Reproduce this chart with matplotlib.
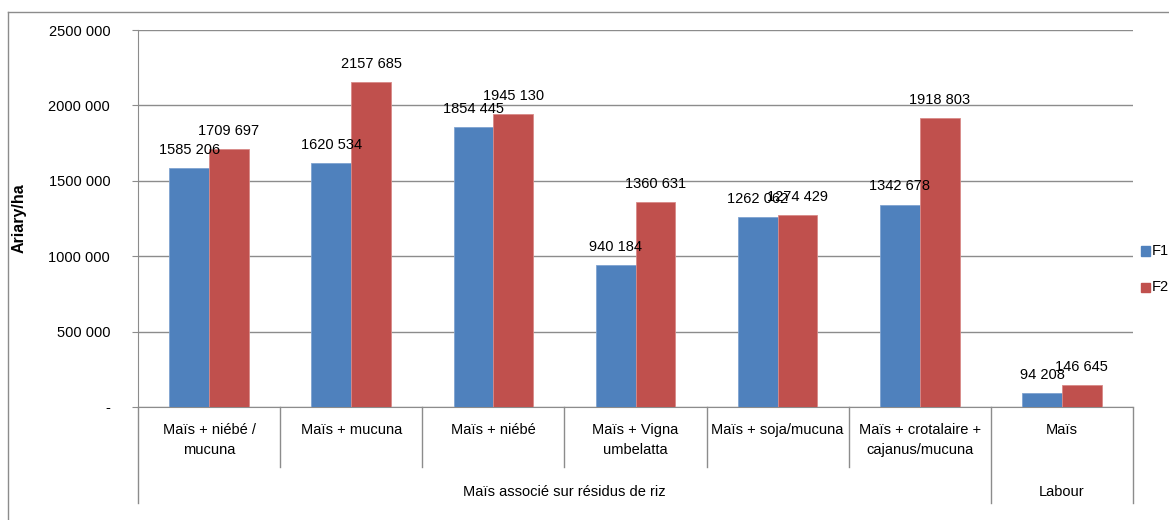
import numpy as np
import matplotlib
matplotlib.use("Agg")
import matplotlib.pyplot as plt
import matplotlib.transforms as mtransforms

# données
categories = ["Maïs + niébé /\nmucuna", "Maïs + mucuna", "Maïs + niébé",
              "Maïs + Vigna\numbelatta", "Maïs + soja/mucuna",
              "Maïs + crotalaire +\ncajanus/mucuna", "Maïs"]
groupes = ["Maïs associé sur résidus de riz", "Labour"]
taille_groupes = [6, 1]
F1 = [1585206, 1620534, 1854445, 940184, 1262062, 1342678, 94208]
F2 = [1709697, 2157685, 1945130, 1360631, 1274429, 1918803, 146645]
yticks = [0, 500000, 1000000, 1500000, 2000000, 2500000]

bleu = "#4F81BD"
rouge = "#C0504D"
gris = "#8C8C8C"

plt.rcParams['font.family'] = ['Liberation Sans', 'DejaVu Sans']

def fmt(v):
    # format "# ##0" : un seul séparateur pour les milliers, "-" pour zéro
    if v == 0:
        return "-"
    if v < 1000:
        return str(v)
    return f"{v // 1000} {v % 1000:03d}"

fig = plt.figure(figsize=(11.69, 5.2), dpi=100)
ax = fig.add_axes([138/1169, 1-407/520, (1133-138)/1169, (407-30)/520])

x = np.arange(len(categories))
w = 0.28
ax.bar(x - w/2, F1, w, color=bleu, edgecolor="#7FA3D0", linewidth=0.6, zorder=3)
ax.bar(x + w/2, F2, w, color=rouge, edgecolor="#D88A88", linewidth=0.6, zorder=3)

for i in range(len(x)):
    ax.annotate(fmt(F1[i]), (x[i] - w/2, F1[i]), xytext=(0, 8), textcoords="offset points",
                ha="center", va="bottom", fontsize=10.5, zorder=4)
    ax.annotate(fmt(F2[i]), (x[i] + w/2, F2[i]), xytext=(0, 8), textcoords="offset points",
                ha="center", va="bottom", fontsize=10.5, zorder=4)

ax.set_xlim(-0.5, len(categories) - 0.5)
ax.set_ylim(0, 2500000)
ax.set_yticks(yticks)
ax.set_yticklabels([fmt(v) for v in yticks], fontsize=10.5)
ax.yaxis.grid(True, color=gris, linewidth=1, zorder=0)
ax.tick_params(axis="y", length=4, color=gris, pad=16)
ax.set_xticks([])
for s in ["top", "right"]:
    ax.spines[s].set_visible(False)
ax.spines["left"].set_color(gris)
ax.spines["bottom"].set_color(gris)
ax.set_ylabel("Ariary/ha", fontsize=11.5, fontweight="bold")
ax.yaxis.set_label_coords((27 - 138) / (1133 - 138), 0.5)

# axe des x à deux niveaux
trans = mtransforms.blended_transform_factory(ax.transData, ax.transAxes)
h = ax.get_position().height * 520
def dy(px):
    return -px / h

for i, c in enumerate(categories):
    ax.text(x[i], dy(16), c, transform=trans, ha="center", va="top",
            fontsize=10.5, linespacing=1.55)

bords_groupes = [-0.5]
for n in taille_groupes:
    bords_groupes.append(bords_groupes[-1] + n)
for k in range(len(categories) + 1):
    xb = k - 0.5
    bas = 96 if xb in bords_groupes else 60
    ax.plot([xb, xb], [0, dy(bas)], transform=trans, color=gris, lw=1, clip_on=False)

for g, nom in enumerate(groupes):
    centre = (bords_groupes[g] + bords_groupes[g + 1]) / 2
    ax.text(centre, dy(85), nom, transform=trans, ha="center", va="center", fontsize=10.5)

# légende, serrée contre le bord droit
for j, (nom, col) in enumerate([("F1", bleu), ("F2", rouge)]):
    yy = 1 - (251 + 36*j) / 520
    fig.patches.append(plt.Rectangle((1141/1169, yy - 4.5/520), 9/1169, 9/520,
                                     transform=fig.transFigure, color=col))
    fig.text(1152/1169, yy, nom, ha="left", va="center", fontsize=10.5)

# cadre extérieur
fig.add_artist(plt.Line2D([8/1169, 8/1169], [0, 1-12/520], color=gris, lw=1,
                          transform=fig.transFigure))
fig.add_artist(plt.Line2D([8/1169, 1], [1-12/520, 1-12/520], color=gris, lw=1,
                          transform=fig.transFigure))

fig.savefig("out.png", dpi=100)
